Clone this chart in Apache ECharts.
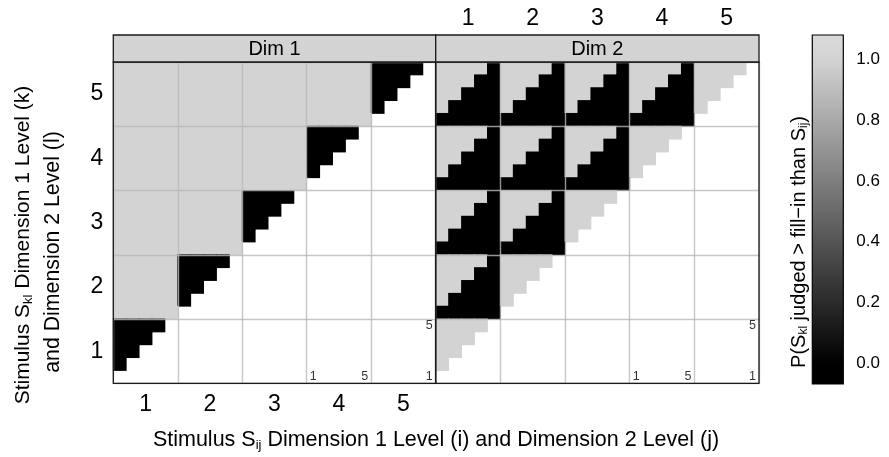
<!DOCTYPE html>
<html><head><meta charset="utf-8">
<script src="https://cdn.jsdelivr.net/npm/echarts@6/dist/echarts.min.js"></script>
<style>html,body{margin:0;padding:0;background:#fff}#c{width:889px;height:457px}</style>
</head><body><div id="c"></div>
<script>
// ---------- data ----------
const levelLabels = ['1', '2', '3', '4', '5'];
const panelNames = ['Dim 1', 'Dim 2'];
// rows listed from top (k=5,l=5) to bottom (k=1,l=1); 5 blocks (i) of 5 cells (j); '.' = no value
const dim1Rows = [
  '11111 11111 11111 11111 0000.',
  '11111 11111 11111 11111 000..',
  '11111 11111 11111 11111 00...',
  '11111 11111 11111 11111 0....',
  '11111 11111 11111 11111 .....',
  '11111 11111 11111 0000. .....',
  '11111 11111 11111 000.. .....',
  '11111 11111 11111 00... .....',
  '11111 11111 11111 0.... .....',
  '11111 11111 11111 ..... .....',
  '11111 11111 0000. ..... .....',
  '11111 11111 000.. ..... .....',
  '11111 11111 00... ..... .....',
  '11111 11111 0.... ..... .....',
  '11111 11111 ..... ..... .....',
  '11111 0000. ..... ..... .....',
  '11111 000.. ..... ..... .....',
  '11111 00... ..... ..... .....',
  '11111 0.... ..... ..... .....',
  '11111 ..... ..... ..... .....',
  '0000. ..... ..... ..... .....',
  '000.. ..... ..... ..... .....',
  '00... ..... ..... ..... .....',
  '0.... ..... ..... ..... .....',
  '..... ..... ..... ..... .....'
];
const dim2Rows = [
  '11110 11110 11110 11110 1111.',
  '11100 11100 11100 11100 111..',
  '11000 11000 11000 11000 11...',
  '10000 10000 10000 10000 1....',
  '00000 00000 00000 00000 .....',
  '11110 11110 11110 1111. .....',
  '11100 11100 11100 111.. .....',
  '11000 11000 11000 11... .....',
  '10000 10000 10000 1.... .....',
  '00000 00000 00000 ..... .....',
  '11110 11110 1111. ..... .....',
  '11100 11100 111.. ..... .....',
  '11000 11000 11... ..... .....',
  '10000 10000 1.... ..... .....',
  '00000 00000 ..... ..... .....',
  '11110 1111. ..... ..... .....',
  '11100 111.. ..... ..... .....',
  '11000 11... ..... ..... .....',
  '10000 1.... ..... ..... .....',
  '00000 ..... ..... ..... .....',
  '1111. ..... ..... ..... .....',
  '111.. ..... ..... ..... .....',
  '11... ..... ..... ..... .....',
  '1.... ..... ..... ..... .....',
  '..... ..... ..... ..... .....'
];
// small sub-level labels: [x position, y position, text] in cell units (1..25)
const cornerLabels = [[16, 1, '1'], [20, 1, '5'], [25, 5, '5'], [25, 1, '1']];
const colorbarTicks = [0, 0.2, 0.4, 0.6, 0.8, 1.0];
const colorbarRange = [-0.068, 1.08];

// ---------- layout ----------
const FONT = '"Liberation Sans", Arial, Helvetica, sans-serif';
const PT = 62, PH = 321.3, PL = [113.3, 435.7], PW = [322.4, 323.3], STRIP_TOP = 35;
const CB = {left: 812.3, top: 35, width: 31, height: 349};
const LOW = '#000000', HIGH = '#d3d3d3';

function parseRows(rows) {
  const out = [];
  const n = rows.length;
  rows.forEach((row, r) => {
    const s = row.replace(/\s+/g, '');
    for (let c = 0; c < s.length; c++) {
      if (s[c] === '.') continue;
      out.push([c, n - 1 - r, Number(s[c])]);
    }
  });
  return out;
}
const cats = [];
levelLabels.forEach(a => levelLabels.forEach(b => cats.push(a + '-' + b)));

const chart = echarts.init(document.getElementById('c'));

function cellRender(params, api) {
  const c = api.coord([api.value(0), api.value(1)]);
  const s = api.size([1, 1]);
  const col = api.visual('color');
  const e = 0.45;
  return {type: 'rect', shape: {x: c[0] - s[0] / 2 - e, y: c[1] - s[1] / 2 - e, width: s[0] + 2 * e, height: s[1] + 2 * e},
    style: {fill: col, stroke: null, lineWidth: 0}};
}

const grids = [], xAxes = [], yAxes = [], series = [];
for (let p = 0; p < 2; p++) {
  grids.push({left: PL[p], top: PT, width: PW[p], height: PH, containLabel: false, show: false});
  xAxes.push({type: 'category', gridIndex: p, data: cats, position: p === 0 ? 'bottom' : 'top',
    axisLine: {show: false}, axisTick: {show: false}, splitLine: {show: false},
    axisLabel: {show: true, interval: (i) => i % 5 === 2, formatter: (v) => v.split('-')[0],
      fontSize: 23, color: '#000', fontFamily: FONT, margin: p === 0 ? 10 : 32}});
  yAxes.push({type: 'category', gridIndex: p, data: cats,
    axisLine: {show: false}, axisTick: {show: false}, splitLine: {show: false},
    axisLabel: {show: p === 0, interval: (i) => i % 5 === 2, formatter: (v) => v.split('-')[0],
      fontSize: 23, color: '#000', fontFamily: FONT, margin: 10}});
  series.push({type: 'custom', xAxisIndex: p, yAxisIndex: p, renderItem: cellRender,
    data: parseRows(p === 0 ? dim1Rows : dim2Rows), encode: {x: 0, y: 1}, silent: true, z: 2});
}
// overlay grids for block separators, border and sub-level labels
for (let p = 0; p < 2; p++) {
  grids.push({left: PL[p], top: PT, width: PW[p], height: PH, show: true, backgroundColor: 'transparent',
    borderColor: '#1a1a1a', borderWidth: 1.3, z: 20});
  const ax = {type: 'value', gridIndex: 2 + p, min: 0.5, max: 25.5, interval: 5, z: 15,
    axisLine: {show: false}, axisTick: {show: false}, axisLabel: {show: false},
    splitLine: {show: true, lineStyle: {color: 'rgba(185,185,185,0.8)', width: 1.4}}};
  xAxes.push(Object.assign({}, ax));
  yAxes.push(Object.assign({}, ax));
  series.push({type: 'scatter', xAxisIndex: 2 + p, yAxisIndex: 2 + p, data: cornerLabels, symbolSize: 0,
    itemStyle: {color: 'transparent'}, silent: true, z: 25,
    label: {show: true, position: 'inside', formatter: (d) => d.data[2], fontSize: 12.5, color: '#000', fontFamily: FONT}});
}
// colorbar
grids.push({left: CB.left, top: CB.top, width: CB.width, height: CB.height, show: false});
xAxes.push({type: 'value', gridIndex: 4, min: 0, max: 1, show: false});
yAxes.push({type: 'value', gridIndex: 4, min: colorbarRange[0], max: colorbarRange[1], position: 'right',
  axisLine: {show: false}, splitLine: {show: false},
  axisTick: {show: true, customValues: colorbarTicks, length: 6, lineStyle: {color: '#000', width: 1}},
  axisLabel: {show: true, customValues: colorbarTicks, formatter: (v) => v.toFixed(1), fontSize: 17,
    color: '#000', fontFamily: FONT, margin: 13}});
const span = colorbarRange[1] - colorbarRange[0];
series.push({type: 'custom', xAxisIndex: 4, yAxisIndex: 4, data: [[0, colorbarRange[0]]], silent: true,
  renderItem: (params, api) => {
    const a = api.coord([0, colorbarRange[1]]);
    const b = api.coord([1, colorbarRange[0]]);
    return {type: 'rect', shape: {x: a[0], y: a[1], width: b[0] - a[0], height: b[1] - a[1]},
      style: {stroke: '#000', lineWidth: 1.2, fill: new echarts.graphic.LinearGradient(0, 0, 0, 1, [
        {offset: 0, color: '#dadada'},
        {offset: (colorbarRange[1] - 1) / span, color: HIGH},
        {offset: (colorbarRange[1] - 0) / span, color: LOW},
        {offset: 1, color: LOW}])}};
  }});

// strips and titles
const graphics = [];
for (let p = 0; p < 2; p++) {
  graphics.push({type: 'rect', shape: {x: PL[p], y: STRIP_TOP, width: PW[p], height: PT - STRIP_TOP},
    style: {fill: '#d3d3d3', stroke: '#1a1a1a', lineWidth: 1.3}, z: 30});
  graphics.push({type: 'text', x: PL[p] + PW[p] / 2, y: (STRIP_TOP + PT) / 2 + 1, z: 31,
    style: {text: panelNames[p], fontSize: 20, fontFamily: FONT, fill: '#000', align: 'center', verticalAlign: 'middle'}});
}
const rich = (fs) => ({n: {fontSize: fs, fontFamily: FONT, fill: '#000', lineHeight: fs + 2},
  s: {fontSize: Math.round(fs * 0.62), fontFamily: FONT, fill: '#000', lineHeight: 8, verticalAlign: 'bottom'}});
graphics.push({type: 'text', x: 436, y: 440, z: 31,
  style: {text: '{n|Stimulus S}{s|ij}{n| Dimension 1 Level (i) and Dimension 2 Level (j)}', rich: rich(21.5),
    align: 'center', verticalAlign: 'middle'}});
graphics.push({type: 'text', x: 23, y: 245, rotation: Math.PI / 2, z: 31,
  style: {text: '{n|Stimulus S}{s|kl}{n| Dimension 1 Level (k)}', rich: rich(21), align: 'center', verticalAlign: 'middle'}});
graphics.push({type: 'text', x: 53, y: 252, rotation: Math.PI / 2, z: 31,
  style: {text: '{n|and Dimension 2 Level (l)}', rich: rich(21.3), align: 'center', verticalAlign: 'middle'}});
graphics.push({type: 'text', x: 799, y: 242, rotation: Math.PI / 2, z: 31,
  style: {text: '{n|P(S}{s|kl}{n| judged > fill\u2212in than S}{s|ij}{n|)}', rich: rich(20), align: 'center', verticalAlign: 'middle'}});

chart.setOption({
  animation: false,
  backgroundColor: '#fff',
  textStyle: {fontFamily: FONT},
  grid: grids, xAxis: xAxes, yAxis: yAxes, series: series,
  visualMap: {type: 'continuous', show: false, min: 0, max: 1, dimension: 2, seriesIndex: [0, 1],
    inRange: {color: [LOW, HIGH]}},
  graphic: graphics
});
</script></body></html>
